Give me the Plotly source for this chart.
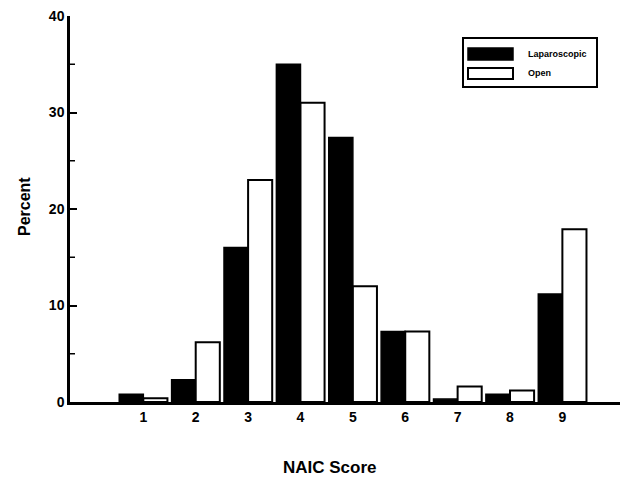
import plotly.graph_objects as go

# NAIC score distribution by surgical approach
scores = [1, 2, 3, 4, 5, 6, 7, 8, 9]
laparoscopic = [0.8, 2.3, 16.0, 35.0, 27.4, 7.3, 0.3, 0.8, 11.2]
open_surgery = [0.4, 6.2, 23.0, 31.0, 12.0, 7.3, 1.6, 1.2, 17.9]
y_ticks = [0, 10, 20, 30, 40]

FONT = "Liberation Sans, Arial, sans-serif"
W, H = 635, 478
L, R, T, B = 70, 15, 16, 76

fig = go.Figure()
fig.add_trace(go.Bar(
    x=scores, y=laparoscopic, name="Laparoscopic",
    marker=dict(color="black", line=dict(color="black", width=1.5)),
    showlegend=False,
))
fig.add_trace(go.Bar(
    x=scores, y=open_surgery, name="Open",
    marker=dict(color="white", line=dict(color="black", width=2)),
    showlegend=False,
))

# pixel -> paper helpers for the hand-placed legend and titles
pw, ph = W - L - R, H - T - B
def fx(px):
    return (px - L) / pw
def fy(py):
    return (H - B - py) / ph

shapes = [
    dict(type="rect", xref="paper", yref="paper",
         x0=fx(463), x1=fx(597), y0=fy(87), y1=fy(38),
         line=dict(color="black", width=2), fillcolor="white", layer="above"),
    dict(type="rect", xref="paper", yref="paper",
         x0=fx(468), x1=fx(513), y0=fy(60), y1=fy(48),
         line=dict(color="black", width=1.5), fillcolor="black", layer="above"),
    dict(type="rect", xref="paper", yref="paper",
         x0=fx(468), x1=fx(513), y0=fy(79), y1=fy(68),
         line=dict(color="black", width=2), fillcolor="white", layer="above"),
]
# minor ticks on the y axis (inside)
for v in [5, 15, 25, 35]:
    shapes.append(dict(type="line", xref="paper", yref="y",
                       x0=0, x1=fx(L + 5), y0=v, y1=v,
                       line=dict(color="black", width=1.5)))

annotations = [
    dict(text="<b>Laparoscopic</b>", xref="paper", yref="paper", x=fx(526), y=fy(54),
         xanchor="left", yanchor="middle", showarrow=False,
         font=dict(family=FONT, size=9, color="black")),
    dict(text="<b>Open</b>", xref="paper", yref="paper", x=fx(526), y=fy(73),
         xanchor="left", yanchor="middle", showarrow=False,
         font=dict(family=FONT, size=9, color="black")),
    dict(text="<b>NAIC Score</b>", xref="paper", yref="paper", x=fx(330), y=fy(467),
         xanchor="center", yanchor="middle", showarrow=False,
         font=dict(family=FONT, size=17, color="black")),
    dict(text="<b>Percent</b>", xref="paper", yref="paper", x=fx(24), y=fy(207),
         xanchor="center", yanchor="middle", showarrow=False, textangle=-90,
         font=dict(family=FONT, size=16, color="black")),
]

tickfont = dict(family=FONT, size=14, color="black", weight="bold")

fig.update_layout(
    width=W, height=H,
    margin=dict(l=L, r=R, t=T, b=B, autoexpand=False),
    paper_bgcolor="white", plot_bgcolor="white",
    barmode="group", bargap=0.08, bargroupgap=0,
    font=dict(family=FONT, size=13, color="black"),
    shapes=shapes, annotations=annotations,
    xaxis=dict(
        range=[-0.4, 10.1], tickvals=scores, ticktext=[str(s) for s in scores],
        showline=True, linecolor="black", linewidth=2.5,
        ticks="", showgrid=False, zeroline=False,
        tickfont=tickfont,
    ),
    yaxis=dict(
        range=[0, 40], tickvals=y_ticks,
        showline=True, linecolor="black", linewidth=2.5,
        ticks="inside", ticklen=7, tickwidth=1.5, tickcolor="black",
        showgrid=False, zeroline=False,
        tickfont=tickfont,
    ),
)

fig.write_html("out.html")
